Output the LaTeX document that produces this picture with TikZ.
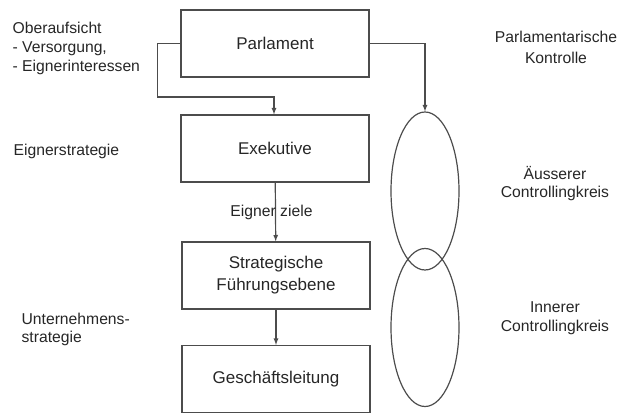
\documentclass[tikz,border=0pt]{standalone}
\usepackage{fontspec}
\setmainfont{Liberation Sans}
\usetikzlibrary{arrows,shapes.geometric}

\begin{document}
\begin{tikzpicture}[x=1pt,y=-1pt,line width=1.2pt,black!70,>=latex,
  every node/.style={text=black!85,font=\fontsize{15.7}{20}\selectfont},
  box/.style={draw,minimum width=188pt,minimum height=67pt,align=center,
    font=\fontsize{17}{22}\selectfont},
  kreis/.style={draw,ellipse,minimum width=68pt,minimum height=158pt,inner sep=0pt},
  side/.style={align=left,anchor=west,inner sep=0pt},
  note/.style={align=center,inner sep=0pt}]
\useasboundingbox (0,0) rectangle (619,414);
% Hierarchie
\node[box] (parl) at (275,43.5) {Parlament};
\node[box] (exek) at (275,148.5) {Exekutive};
\node[box] (strat) at (276,275.5) {Strategische\\F\"uhrungsebene};
\node[box] (gl) at (276,379) {Gesch\"aftsleitung};
% Controllingkreise
\node[kreis] (aussen) at (425,191) {};
\node[kreis] (innen) at (425,327.5) {};
% Beschriftungen
\node[side,font=\fontsize{15.7}{19}\selectfont] (aufsicht) at (12,48) {Oberaufsicht\\- Versorgung,\\- Eignerinteressen};
\node[side] (estrat) at (13,151) {Eignerstrategie};
\node[side,font=\fontsize{15.7}{18}\selectfont] (ustrat) at (21,329) {Unternehmens-\\strategie};
\node[note,font=\fontsize{15.7}{21}\selectfont] (kontrolle) at (556,47.5) {Parlamentarische\\Kontrolle};
\node[note,font=\fontsize{15.7}{18}\selectfont] (aeusserer) at (555,184) {\"Ausserer\\Controllingkreis};
\node[note,font=\fontsize{15.7}{19}\selectfont] (innerer) at (555,318) {Innerer\\Controllingkreis};
% Verbindungen
\coordinate (knick) at (274,97);
\draw[->] (parl.west) -- ++(-23,0) |- (knick) -- (knick |- exek.north);
\draw[->] (parl.east) -| (aussen.north);
\draw[->] (exek) -- node[pos=0.5,xshift=-4pt,inner sep=0pt] {Eigner ziele} (strat);
\draw[->] (strat) -- (gl);
\end{tikzpicture}
\end{document}
